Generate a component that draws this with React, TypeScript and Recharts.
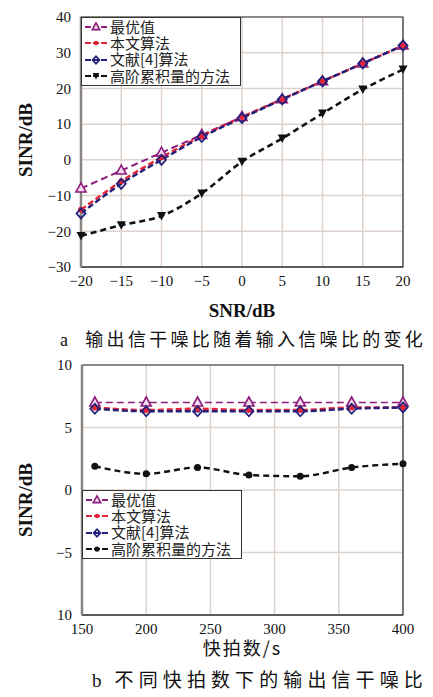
import React from 'react';
import { LineChart, Line, XAxis, YAxis, CartesianGrid, ReferenceArea, Legend } from 'recharts';

// 图a: 输出信干噪比随输入信噪比变化
const snrX = [-20, -15, -10, -5, 0, 5, 10, 15, 20];
const optTop = [-8, -3, 2, 7, 12, 17, 22, 27, 32];
const oursTop = [-14, -6, 0.7, 6.7, 12, 17, 22, 27, 32];
const ref4Top = [-15, -6.7, 0, 6.4, 11.7, 16.9, 22, 27, 32];
const hocTop = [-21.3, -18.3, -15.7, -9.4, -0.5, 6, 13, 19.7, 25.3];
const snrTicks = [-20, -15, -10, -5, 0, 5, 10, 15, 20];
const sinrTicksTop = [-30, -20, -10, 0, 10, 20, 30, 40];

// 图b: 不同快拍数下的输出信干噪比
const snapX = [160, 200, 240, 280, 320, 360, 400];
const optBottom = [7, 7, 7, 7, 7, 7, 7];
const oursBottom = [6.6, 6.4, 6.5, 6.4, 6.4, 6.6, 6.6];
const ref4Bottom = [6.5, 6.3, 6.3, 6.3, 6.3, 6.5, 6.6];
const hocBottom = [1.9, 1.3, 1.8, 1.2, 1.1, 1.8, 2.1];
const snapTicks = [150, 200, 250, 300, 350, 400];
const sinrTicksBottom = [-10, -5, 0, 5, 10];

const seriesKeys = ['opt', 'ours', 'ref4', 'hoc'] as const;
type SeriesKey = typeof seriesKeys[number];
const seriesNames: Record<SeriesKey, string> = {
    opt: '最优值',
    ours: '本文算法',
    ref4: '文献[4]算法',
    hoc: '高阶累积量的方法',
};
const seriesColors: Record<SeriesKey, string> = {
    opt: '#8c1d7d',
    ours: '#e3243b',
    ref4: '#22207a',
    hoc: '#111111',
};

const SERIF = "'Liberation Serif', 'Noto Sans CJK SC', serif";
const CJK = "'Noto Sans CJK SC', 'Liberation Serif', serif";
const gridColor = '#ddd3cc';

const topData = snrX.map((x, i) => ({ x, opt: optTop[i], ours: oursTop[i], ref4: ref4Top[i], hoc: hocTop[i] }));
const bottomData = snapX.map((x, i) => ({ x, opt: optBottom[i], ours: oursBottom[i], ref4: ref4Bottom[i], hoc: hocBottom[i] }));

type Kind = 'tri' | 'dot' | 'diamond' | 'down' | 'blob';

const Marker = ({ kind, cx, cy, color, s = 1 }: { kind: Kind; cx?: number; cy?: number; color: string; s?: number }) => {
    if (cx == null || cy == null) return null;
    switch (kind) {
        case 'tri':
            return <polygon points={`${cx},${cy - 5.5 * s} ${cx - 5 * s},${cy + 3.5 * s} ${cx + 5 * s},${cy + 3.5 * s}`} fill="#f3dcef" stroke={color} strokeWidth={1.6} />;
        case 'dot':
            return <circle cx={cx} cy={cy} r={3 * s} fill={color} />;
        case 'diamond':
            return <polygon points={`${cx},${cy - 5 * s} ${cx + 4.5 * s},${cy} ${cx},${cy + 5 * s} ${cx - 4.5 * s},${cy}`} fill="none" stroke={color} strokeWidth={1.8} />;
        case 'down':
            return <polygon points={`${cx - 4.5 * s},${cy - 4 * s} ${cx + 4.5 * s},${cy - 4 * s} ${cx},${cy + 4.5 * s}`} fill={color} />;
        default:
            return <circle cx={cx} cy={cy} r={3.5 * s} fill={color} />;
    }
};

const fmtMinus = (v: number) => (v < 0 ? '\u2212' + Math.abs(v) : String(v));

const LegendBox = ({ kinds }: { kinds: Record<SeriesKey, Kind> }) => (
    <div style={{
        border: '1.5px solid #333', background: '#fff', width: 160, boxSizing: 'border-box',
        padding: '1px 2px', fontFamily: CJK, fontSize: 15, lineHeight: '16.2px', color: '#222',
    }}>
        {seriesKeys.map(k => (
            <div key={k} style={{ display: 'flex', alignItems: 'center' }}>
                <svg width={24} height={12}>
                    <line x1={1} x2={23} y1={6} y2={6} stroke={seriesColors[k]} strokeWidth={2.2} strokeDasharray="6 2" />
                    <Marker kind={kinds[k]} cx={12} cy={6} color={seriesColors[k]} s={0.75} />
                </svg>
                <span style={{ marginLeft: 2 }}>{seriesNames[k]}</span>
            </div>
        ))}
    </div>
);

interface PanelProps {
    data: any[];
    width: number;
    height: number;
    yWidth: number;
    xHeight: number;
    xDomain: [number, number];
    yDomain: [number, number];
    xTicks: number[];
    yTicks: number[];
    yFmt: (v: number) => string;
    xTitle: string;
    xTitleStyle: React.CSSProperties;
    xTitleOffset: number;
    yTitleDy: number;
    kinds: Record<SeriesKey, Kind>;
    legendTop: number;
    dash: Record<SeriesKey, { d: string; w: number }>;
}

const Panel: React.FC<PanelProps> = (p) => {
    const tickStyle = { fill: '#111', fontSize: 15, fontFamily: SERIF };
    return (
        <LineChart width={p.width} height={p.height} data={p.data} margin={{ top: 17, right: 30, bottom: 0, left: 0 }}>
            <CartesianGrid stroke={gridColor} strokeWidth={1.5} />
            <XAxis
                dataKey="x"
                type="number"
                domain={p.xDomain}
                ticks={p.xTicks}
                height={p.xHeight}
                tickLine={false}
                tickSize={0}
                tickMargin={8}
                axisLine={{ stroke: '#333', strokeWidth: 1.2 }}
                tickFormatter={fmtMinus}
                tick={tickStyle}
                label={{ value: p.xTitle, position: 'insideBottom', offset: p.xTitleOffset, style: { fill: '#111', ...p.xTitleStyle } }}
            />
            <YAxis
                type="number"
                domain={p.yDomain}
                ticks={p.yTicks}
                width={p.yWidth}
                tickLine={false}
                tickSize={0}
                tickMargin={10}
                axisLine={{ stroke: '#8a8482', strokeWidth: 2.5 }}
                tickFormatter={p.yFmt}
                tick={tickStyle}
                label={{
                    content: (lp: any) => {
                        const vb = lp.viewBox || { x: 0, y: 17, height: 250 };
                        const cy = vb.y + vb.height / 2 + p.yTitleDy;
                        return (
                            <text x={25} y={cy} transform={`rotate(-90 25 ${cy})`} textAnchor="middle" dominantBaseline="central"
                                style={{ fill: '#111', fontSize: 19, fontWeight: 'bold', fontFamily: SERIF }}>
                                SINR/dB
                            </text>
                        );
                    },
                }}
            />
            <ReferenceArea x1={p.xDomain[0]} x2={p.xDomain[1]} y1={p.yDomain[0]} y2={p.yDomain[1]} fill="none" stroke="#333" strokeWidth={1.2} ifOverflow="visible" />
            {seriesKeys.map(k => (
                <Line
                    key={k}
                    dataKey={k}
                    name={seriesNames[k]}
                    type="monotone"
                    stroke={seriesColors[k]}
                    strokeWidth={p.dash[k].w}
                    strokeDasharray={p.dash[k].d}
                    isAnimationActive={false}
                    dot={(dp: any) => <Marker key={`${k}-${dp.index}`} kind={p.kinds[k]} cx={dp.cx} cy={dp.cy} color={seriesColors[k]} />}
                    activeDot={false}
                />
            ))}
            <Legend
                layout="horizontal"
                verticalAlign="middle"
                align="center"
                wrapperStyle={{ left: p.yWidth, top: p.legendTop, width: 160 }}
                content={() => <LegendBox kinds={p.kinds} />}
            />
        </LineChart>
    );
};

const topKinds: Record<SeriesKey, Kind> = { opt: 'tri', ours: 'dot', ref4: 'diamond', hoc: 'down' };
const bottomKinds: Record<SeriesKey, Kind> = { opt: 'tri', ours: 'dot', ref4: 'diamond', hoc: 'blob' };

const topDash = {
    opt: { d: '7 4', w: 2 },
    ours: { d: '6 3', w: 2.4 },
    ref4: { d: '6 3', w: 2.4 },
    hoc: { d: '6 4', w: 2.6 },
};
const bottomDash = {
    opt: { d: '7 4', w: 1.5 },
    ours: { d: '6 3', w: 2.4 },
    ref4: { d: '6 3', w: 2.4 },
    hoc: { d: '6 4', w: 2.4 },
};

export default function App() {
    return (
        <div style={{ position: 'absolute', left: 0, top: 0, width: 433, height: 697, background: '#fff', overflow: 'hidden' }}>
            <div style={{ position: 'absolute', left: 0, top: 0 }}>
                <Panel
                    data={topData} width={433} height={324} yWidth={81} xHeight={57}
                    xDomain={[-20, 20]} yDomain={[-30, 40]} xTicks={snrTicks} yTicks={sinrTicksTop}
                    yFmt={fmtMinus} xTitle="SNR/dB" xTitleOffset={7}
                    xTitleStyle={{ fontSize: 19, fontWeight: 'bold', fontFamily: SERIF }} yTitleDy={-2}
                    kinds={topKinds} legendTop={17} dash={topDash}
                />
            </div>
            <div style={{ position: 'absolute', left: 60, top: 325, fontFamily: CJK, fontSize: 18, letterSpacing: 3.3, color: '#111', whiteSpace: 'nowrap' }}>
                <span style={{ fontFamily: SERIF, marginRight: 14 }}>a</span>输出信干噪比随着输入信噪比的变化
            </div>
            <div style={{ position: 'absolute', left: 0, top: 348 }}>
                <Panel
                    data={bottomData} width={433} height={316} yWidth={82} xHeight={49}
                    xDomain={[150, 400]} yDomain={[-10, 10]} xTicks={snapTicks} yTicks={sinrTicksBottom}
                    yFmt={(v: number) => (v === -10 ? '10' : fmtMinus(v))} xTitle="快拍数/s" xTitleOffset={9}
                    xTitleStyle={{ fontSize: 18, fontFamily: CJK, letterSpacing: 2 }} yTitleDy={10}
                    kinds={bottomKinds} legendTop={142} dash={bottomDash}
                />
            </div>
            <div style={{ position: 'absolute', left: 92, top: 665, fontFamily: CJK, fontSize: 19, letterSpacing: 5.1, color: '#111', whiteSpace: 'nowrap' }}>
                <span style={{ fontFamily: SERIF, marginRight: 8 }}>b</span>不同快拍数下的输出信干噪比
            </div>
        </div>
    );
}
